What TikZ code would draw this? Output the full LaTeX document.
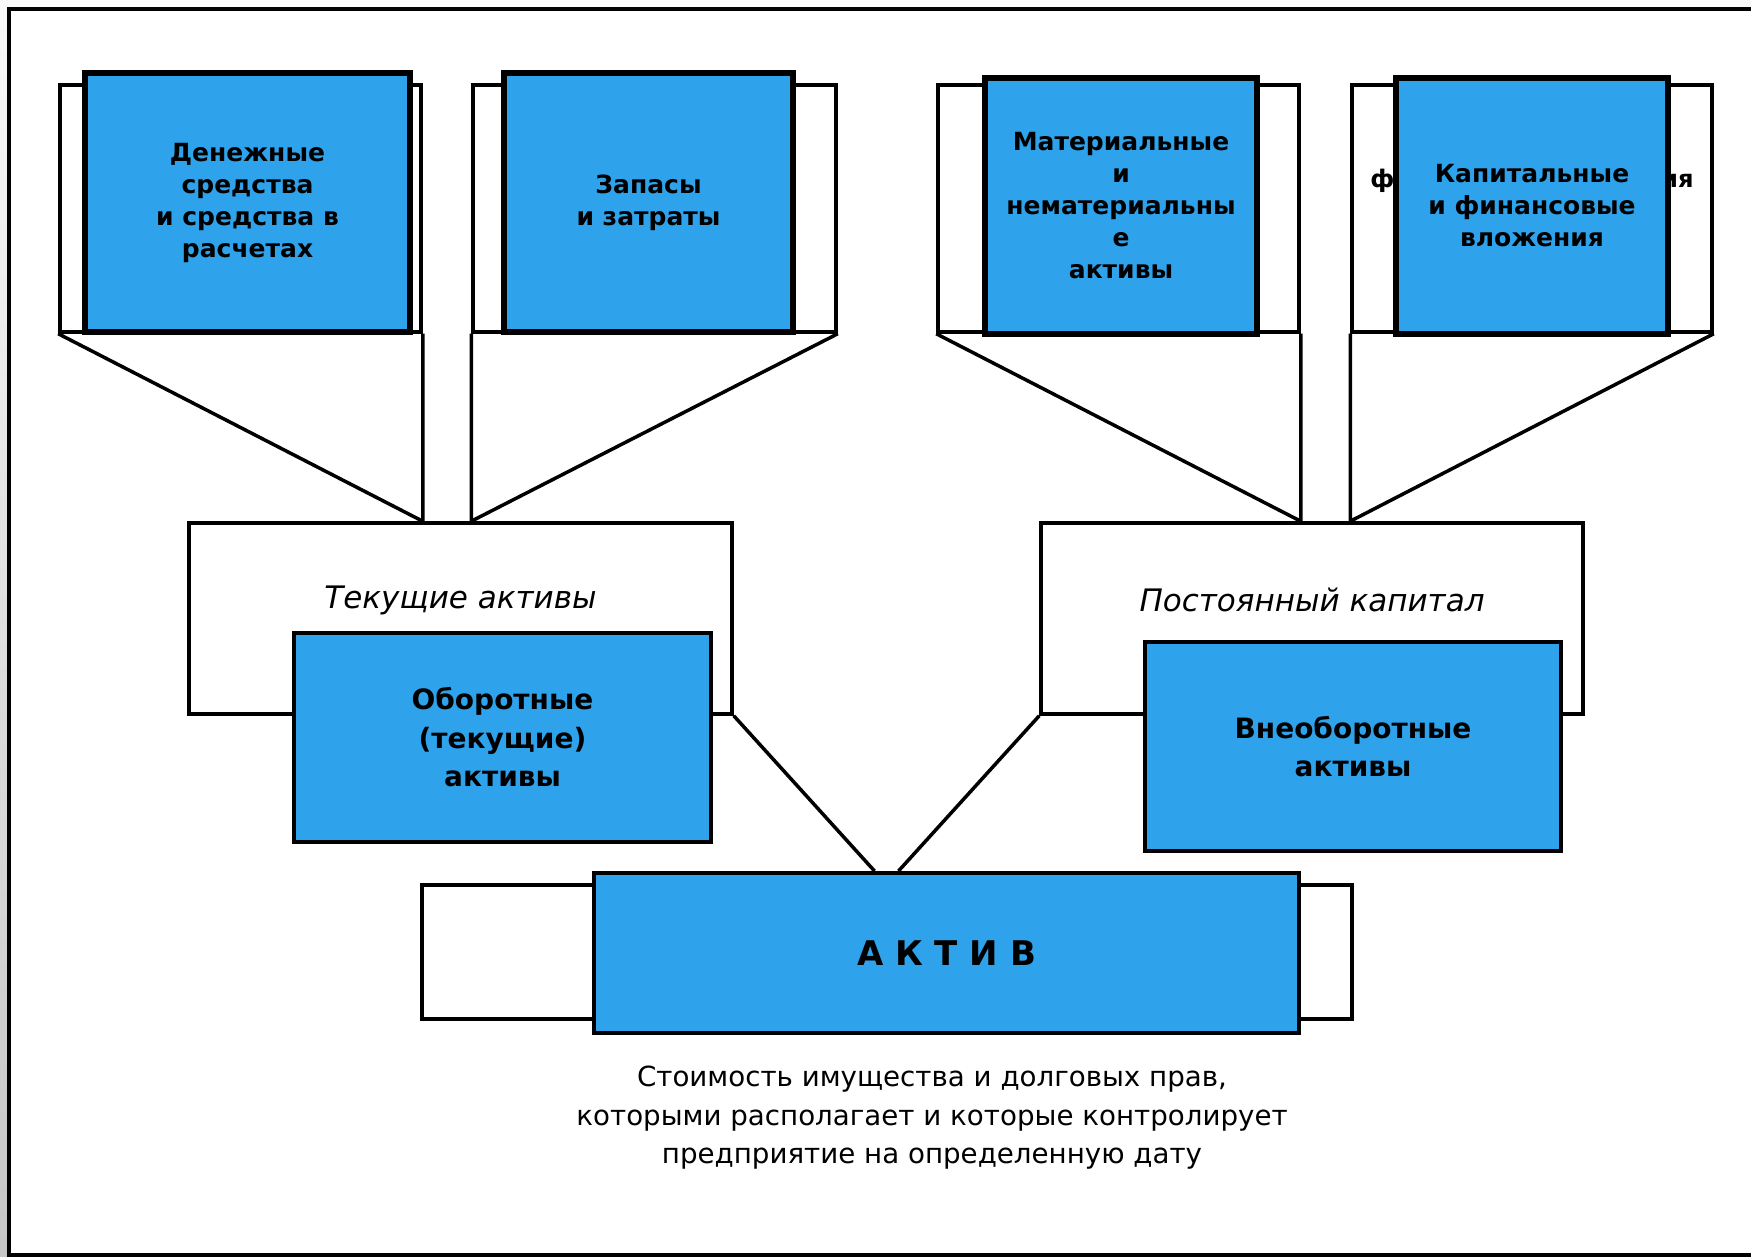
\documentclass[tikz,border=0pt]{standalone}
\usepackage{fontspec}
\setmainfont{DejaVu Sans}
\usetikzlibrary{positioning}
\definecolor{aktivblue}{RGB}{47,162,236}

\begin{document}
\begin{tikzpicture}[x=1pt, y=-1pt,
    back/.style={draw, line width=3.5pt, fill=white, inner sep=0pt},
    topblue/.style={draw, line width=6pt, fill=aktivblue, inner sep=0pt, align=center,
        font=\bfseries\fontsize{25}{32}\selectfont},
    midblue/.style={draw, line width=4pt, fill=aktivblue, inner sep=0pt, align=center,
        font=\bfseries\fontsize{28}{38.5}\selectfont},
    pointer/.style={line width=3.5pt}]
    \useasboundingbox (0,0) rectangle (1751,1257);
    \fill[gray!5] (0,0) rectangle (1751,7);
    \shade[top color=gray!5, bottom color=gray!45] (0,0) rectangle (7,1257);
    \draw[line width=4pt] (1751,9) -- (9,9) -- (9,1255) -- (1751,1255);

    \node[back, minimum width=361pt, minimum height=247pt] (back1) at (240.5,208.5) {};
    \node[back, minimum width=363pt, minimum height=247pt] (back2) at (654.5,208.5) {};
    \node[back, minimum width=361pt, minimum height=247pt] (back3) at (1118.5,208.5) {};
    \node[back, minimum width=360pt, minimum height=247pt] (back4) at (1532,208.5) {};
    \node[font=\bfseries\fontsize{24.2}{32}\selectfont] (fin) at (1532,181) {финансовые вложения};

    \node[back, minimum width=543pt, minimum height=191pt] (tekback) at (460.5,618.5) {};
    \node[back, minimum width=542pt, minimum height=191pt] (postback) at (1312,618.5) {};
    \node[font=\itshape\fontsize{31}{38}\selectfont] (tek) at (460.5,600) {Текущие активы};
    \node[font=\itshape\fontsize{31}{38}\selectfont] (post) at (1312,600) {Постоянный капитал};

    \coordinate (apex1) at (back1.south east |- tekback.north);
    \coordinate (apex2) at (back2.south west |- tekback.north);
    \coordinate (apex3) at (back3.south east |- postback.north);
    \coordinate (apex4) at (back4.south west |- postback.north);
    \draw[pointer] (back1.south west) -- (apex1) -- (back1.south east);
    \draw[pointer] (back2.south east) -- (apex2) -- (back2.south west);
    \draw[pointer] (back3.south west) -- (apex3) -- (back3.south east);
    \draw[pointer] (back4.south east) -- (apex4) -- (back4.south west);

    \node[topblue, minimum width=325pt, minimum height=259pt] (cash) at (247.5,203)
        {Денежные\\средства\\и средства в\\расчетах};
    \node[topblue, minimum width=289pt, minimum height=259pt] (stock) at (648.5,203)
        {Запасы\\и затраты};
    \node[topblue, minimum width=272pt, minimum height=256pt] (tangible) at (1121,206)
        {Материальные\\и\\нематериальны\\е\\активы};
    \node[topblue, minimum width=272pt, minimum height=256pt] (invest) at (1532,206)
        {Капитальные\\и финансовые\\вложения};

    \node[midblue, minimum width=417pt, minimum height=209pt] (current) at (502.5,737.5)
        {Оборотные\\(текущие)\\активы};
    \node[midblue, minimum width=416pt, minimum height=209pt] (noncurrent) at (1353,746.5)
        {Внеоборотные\\активы};

    \node[back, minimum width=930pt, minimum height=134pt] (aktback) at (887,952) {};
    \node[midblue, minimum width=705pt, minimum height=160pt,
        font=\bfseries\fontsize{34}{40}\selectfont] (aktiv) at (946.5,953) {А К Т И В};
    \coordinate (inL) at ([xshift=-72pt]aktiv.north);
    \coordinate (inR) at ([xshift=-48pt]aktiv.north);
    \draw[pointer] (tekback.south east) -- (inL);
    \draw[pointer] (postback.south west) -- (inR);

    \node[align=center, font=\fontsize{27.7}{38.5}\selectfont] (note) at (932,1118)
        {Стоимость имущества и долговых прав,\\которыми располагает и которые контролирует\\предприятие на определенную дату};
\end{tikzpicture}
\end{document}
